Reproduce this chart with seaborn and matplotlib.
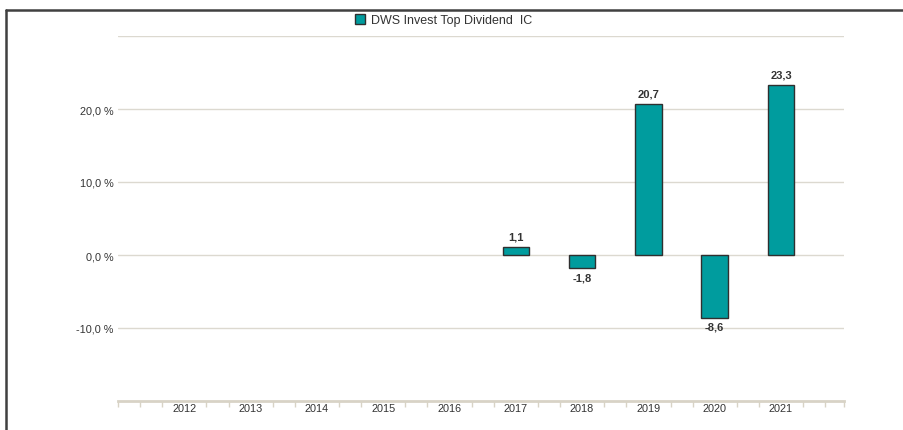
import numpy as np
import pandas as pd
import matplotlib
matplotlib.use('Agg')
import matplotlib.pyplot as plt
import seaborn as sns
from matplotlib.lines import Line2D

# Data
years = ['2012', '2013', '2014', '2015', '2016', '2017', '2018', '2019', '2020', '2021']
returns = [np.nan, np.nan, np.nan, np.nan, np.nan, 1.1, -1.8, 20.7, -8.6, 23.3]
series_name = 'DWS Invest Top Dividend  IC'
y_ticks = [-10, 0, 10, 20]

df = pd.DataFrame({'year': years, 'ret': returns})

sns.set_theme(style='white')
plt.rcParams['font.family'] = ['Liberation Sans', 'DejaVu Sans']

bar_color = '#009c9e'
text_color = '#333333'
grid_color = '#dcd9d0'

fig = plt.figure(figsize=(9.04, 4.31), dpi=100)
ax = fig.add_axes([118 / 904, 1 - 402 / 431, (844 - 118) / 904, (402 - 37) / 431])

sns.barplot(data=df, x='year', y='ret', order=years, color=bar_color, width=0.4,
            edgecolor='#2f2f2f', linewidth=1, saturation=1, label=series_name, ax=ax)

ax.set_xlim(-1, len(years) - 0.05)
ax.set_ylim(-20, 30)

# horizontal grid
for g in [-10, 0, 10, 20, 30]:
    ax.axhline(g, color=grid_color, lw=1, zorder=0)

ax.set_yticks(y_ticks)
ax.set_yticklabels([f'{v:.1f} %'.replace('.', ',') for v in y_ticks])
ax.tick_params(axis='y', length=0, pad=3, labelsize=7.8, labelcolor=text_color)

ax.set_xticks(range(len(years)))
ax.set_xticklabels(years)
minor = [k + d for k in range(-1, len(years)) for d in (1 / 3, 2 / 3)] + [-1, len(years) - 0.05]
ax.set_xticks(minor, minor=True)
ax.tick_params(axis='x', which='major', bottom=True, length=0, pad=1.5, labelsize=7.8,
               labelcolor=text_color)
ax.tick_params(axis='x', which='minor', bottom=True, length=4, width=1, color='#d8d3c6',
               direction='out')
ax.set_xlabel('')
ax.set_ylabel('')

for side in ['top', 'right', 'left']:
    ax.spines[side].set_visible(False)
ax.spines['bottom'].set_color('#d8d3c6')
ax.spines['bottom'].set_linewidth(2)

# value labels
for i, v in enumerate(returns):
    if np.isnan(v):
        continue
    txt = f'{v:.1f}'.replace('.', ',')
    if v >= 0:
        ax.annotate(txt, (i, v), xytext=(0, 4), textcoords='offset points',
                    ha='center', va='bottom', fontsize=8, fontweight='bold', color=text_color)
    else:
        ax.annotate(txt, (i, v), xytext=(0, -3), textcoords='offset points',
                    ha='center', va='top', fontsize=8, fontweight='bold', color=text_color)

if ax.legend_:
    ax.legend_.remove()
handles, labels = ax.get_legend_handles_labels()
fig.legend(handles, labels, loc='center', bbox_to_anchor=(0.491, 1 - 21 / 431), frameon=False,
           fontsize=9, handlelength=0.75, handleheight=0.8, handletextpad=0.5,
           labelcolor=text_color)

# outer frame (left and top)
fig.add_artist(Line2D([6.5 / 904, 6.5 / 904], [0, 1 - 10.5 / 431], transform=fig.transFigure,
                      color='#404040', lw=1.8))
fig.add_artist(Line2D([6.5 / 904, 1], [1 - 10.5 / 431, 1 - 10.5 / 431], transform=fig.transFigure,
                      color='#404040', lw=1.8))

fig.savefig('out.png', dpi=100)
